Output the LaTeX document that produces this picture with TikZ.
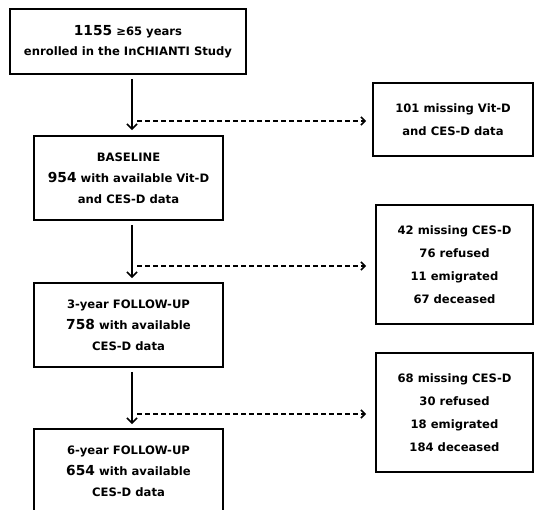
\documentclass[tikz,border=0pt]{standalone}
\usepackage{fontspec}
\setmainfont{DejaVu Sans}
\usetikzlibrary{arrows.meta}
\begin{document}
\begin{tikzpicture}[x=1pt,y=1pt,
  box/.style={draw, line width=1.9pt, align=center, inner sep=0pt,
    font=\bfseries\fontsize{11.6}{21}\selectfont},
  sidebox/.style={box, font=\bfseries\fontsize{11.6}{23}\selectfont},
  arr/.style={line width=1.6pt, -{Straight Barb[length=5pt,width=10pt,line width=1.6pt]}},
  darr/.style={line width=1.6pt, dash pattern=on 5pt off 3pt,
    -{Straight Barb[length=4pt,width=8pt,line width=1.6pt]}}
]
\clip (0,0) rectangle (534,509);
\fill[white] (0,0) rectangle (534,509);
\newcommand{\bignum}[1]{{\fontsize{13.8}{0}\selectfont #1}}
% left column
\node[box, minimum width=236, minimum height=65, font=\bfseries\fontsize{11.6}{20}\selectfont] (A) at (128,467.5)
  {\bignum{1155} ≥65 years\\enrolled in the\ InCHIANTI Study};
\node[box, minimum width=189, minimum height=84] (B) at (128.5,331)
  {BASELINE\\\bignum{954} with available Vit-D\\and CES-D data};
\node[box, minimum width=189, minimum height=84] (C) at (128.5,184)
  {3-year FOLLOW-UP\\\bignum{758} with available\\CES-D data};
\node[box, minimum width=189, minimum height=84] (D) at (128.5,38)
  {6-year FOLLOW-UP\\\bignum{654} with available\\CES-D data};
% right column
\node[sidebox, minimum width=160, minimum height=73] (E) at (453,389.5)
  {101 missing Vit-D\\and CES-D data};
\node[sidebox, minimum width=157, minimum height=119] (F) at (454.5,244.5)
  {42 missing CES-D\\76 refused\\11 emigrated\\67 deceased};
\node[sidebox, minimum width=157, minimum height=119] (G) at (454.5,96.5)
  {68 missing CES-D\\30 refused\\18 emigrated\\184 deceased};
% main arrows
\draw[arr, shorten <=4pt, shorten >=5pt] ([xshift=4pt]A.south) -- ([xshift=3.5pt]B.north);
\draw[arr, shorten <=4pt, shorten >=4pt] ([xshift=3.5pt]B.south) -- ([xshift=3.5pt]C.north);
\draw[arr, shorten <=4pt, shorten >=4pt] ([xshift=3.5pt]C.south) -- ([xshift=3.5pt]D.north);
% dashed side arrows
\coordinate (d1) at (137,388);
\coordinate (d2) at (137,243);
\coordinate (d3) at (137,95);
\draw[darr, shorten >=6pt] (d1) -- (d1 -| E.west);
\draw[darr, shorten >=9pt] (d2) -- (d2 -| F.west);
\draw[darr, shorten >=9pt] (d3) -- (d3 -| G.west);
\end{tikzpicture}
\end{document}
